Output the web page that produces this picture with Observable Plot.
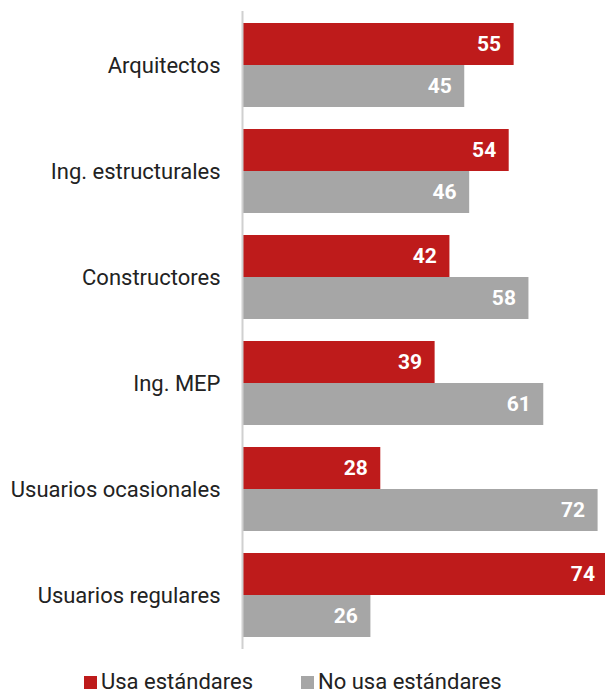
<!DOCTYPE html>
<html>
<head>
<meta charset="utf-8">
<script src="https://cdn.jsdelivr.net/npm/d3@7"></script>
<script src="https://cdn.jsdelivr.net/npm/@observablehq/plot@0.6"></script>
<style>
  body { margin: 0; background: #fff; font-family: "Roboto", "Liberation Sans", sans-serif; }
  #chart { width: 605px; }
  .leg-swatches { margin-top: 10px !important; margin-bottom: 0 !important; margin-left: 84px !important; font-size: 22px !important; font-family: "Roboto", sans-serif !important; color: #222 !important; min-height: 22px !important; height: 24px !important; line-height: 22px !important; }
  .leg-swatch { margin-right: 48px !important; line-height: 22px !important; }
  .leg-swatch > svg { margin-right: 4px !important; }
</style>
</head>
<body>
<div id="chart"></div>
<script>
const categories = ["Arquitectos", "Ing. estructurales", "Constructores", "Ing. MEP", "Usuarios ocasionales", "Usuarios regulares"];
const seriesNames = ["Usa estándares", "No usa estándares"];
const usa = [55, 54, 42, 39, 28, 74];
const noUsa = [45, 46, 58, 61, 72, 26];
const colors = ["#BE1B1B", "#A6A6A6"];

const rowsUsa = categories.map((c, i) => ({cat: c, value: usa[i]}));
const rowsNo = categories.map((c, i) => ({cat: c, value: noUsa[i]}));

const H = 660, mT = 11, mB = 11;
const pI = 0.21, pO = 0.105;
const step = (H - mT - mB) / (categories.length - pI + 2 * pO);
const band = step * (1 - pI);
const half = band / 2;

const chart = Plot.plot({
  width: 605,
  height: H,
  marginLeft: 242,
  marginRight: 0,
  marginTop: mT,
  marginBottom: mB,
  style: {fontSize: "22px", fontFamily: "Roboto, sans-serif", color: "#222"},
  x: {domain: [0, 73.5], axis: null},
  y: {domain: categories, paddingInner: pI, paddingOuter: pO, label: null, tickSize: 0, tickPadding: 22},
  marks: [
    Plot.barX(rowsUsa, {y: "cat", x: "value", fill: colors[0], insetBottom: half}),
    Plot.barX(rowsNo, {y: "cat", x: "value", fill: colors[1], insetTop: half}),
    Plot.text(rowsUsa, {y: "cat", x: "value", text: d => String(d.value), textAnchor: "end", dx: -13, dy: -half / 2, fill: "white", fontWeight: "bold", fontSize: 21}),
    Plot.text(rowsNo, {y: "cat", x: "value", text: d => String(d.value), textAnchor: "end", dx: -13, dy: half / 2, fill: "white", fontWeight: "bold", fontSize: 21}),
    Plot.ruleX([0], {stroke: "#d0d0d0", strokeWidth: 2})
  ]
});
document.getElementById("chart").appendChild(chart);

const legend = Plot.legend({
  color: {domain: seriesNames, range: colors},
  legend: "swatches",
  className: "leg",
  swatchSize: 13
});
document.getElementById("chart").appendChild(legend);
</script>
</body>
</html>
